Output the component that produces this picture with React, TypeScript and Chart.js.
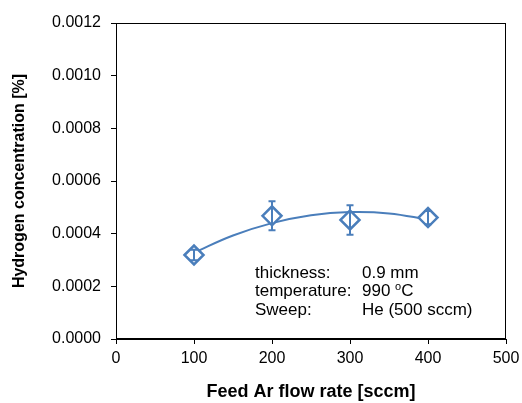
import React, { useEffect, useRef } from "react";
import { Chart, registerables } from "chart.js";

Chart.register(...registerables);

// Measured points
const flowRates = [100, 200, 300, 400];
const h2Conc = [0.000319, 0.000468, 0.000452, 0.000461];
const h2Err = [0.00002, 0.000055, 0.000056, 0.000025];

// Trend curve
const trendX = [100, 150, 200, 250, 300, 350, 400];
const trendY = [0.000328, 0.000393, 0.00044, 0.00047, 0.000482, 0.000477, 0.000454];

const xTicks = [0, 100, 200, 300, 400, 500];
const yTicks = [0, 0.0002, 0.0004, 0.0006, 0.0008, 0.001, 0.0012];

const noteLabels = ["thickness:", "temperature:", "Sweep:"];
const noteValues = ["0.9 mm", "990 |o|C", "He (500 sccm)"];

const BLUE = "#4A7EBB";
const FONT = "'Liberation Sans', Arial, sans-serif";

export default function App() {
  const ref = useRef<HTMLCanvasElement | null>(null);

  useEffect(() => {
    const canvas = ref.current;
    if (!canvas) return;

    const extras = {
      id: "extras",
      afterDatasetsDraw(chart: any) {
        const { ctx, chartArea, scales } = chart;
        const xs = scales.x;
        const ys = scales.y;
        ctx.save();
        // error bars
        ctx.strokeStyle = BLUE;
        ctx.lineWidth = 2;
        for (let i = 0; i < flowRates.length; i++) {
          const px = xs.getPixelForValue(flowRates[i]);
          const top = ys.getPixelForValue(h2Conc[i] + h2Err[i]);
          const bot = ys.getPixelForValue(h2Conc[i] - h2Err[i]);
          ctx.beginPath();
          ctx.moveTo(px, top);
          ctx.lineTo(px, bot);
          ctx.moveTo(px - 3.5, top);
          ctx.lineTo(px + 3.5, top);
          ctx.moveTo(px - 3.5, bot);
          ctx.lineTo(px + 3.5, bot);
          ctx.stroke();
        }
        // frame
        ctx.strokeStyle = "#000";
        ctx.lineWidth = 1;
        ctx.strokeRect(
          Math.round(chartArea.left) + 0.5,
          Math.round(chartArea.top) + 0.5,
          Math.round(chartArea.right - chartArea.left) - 1,
          Math.round(chartArea.bottom - chartArea.top) - 1
        );
        // annotation
        ctx.fillStyle = "#000";
        ctx.textBaseline = "alphabetic";
        ctx.textAlign = "left";
        const lx = chartArea.left + 139;
        const vx = chartArea.left + 246;
        const by = chartArea.top + 255;
        const lh = 18.4;
        for (let i = 0; i < noteLabels.length; i++) {
          const y = by + i * lh;
          ctx.font = `17px ${FONT}`;
          ctx.fillText(noteLabels[i], lx, y);
          const parts = noteValues[i].split("|");
          let x = vx;
          parts.forEach((p, k) => {
            if (k === 1) {
              ctx.font = `11px ${FONT}`;
              ctx.fillText(p, x, y - 6);
              x += ctx.measureText(p).width;
            } else {
              ctx.font = `17px ${FONT}`;
              ctx.fillText(p, x, y);
              x += ctx.measureText(p).width;
            }
          });
        }
        ctx.restore();
      },
    };

    const chart = new Chart(canvas, {
      type: "scatter",
      data: {
        datasets: [
          {
            label: "data",
            data: flowRates.map((x, i) => ({ x, y: h2Conc[i] })),
            showLine: false,
            pointStyle: "rectRot",
            pointRadius: 9.5,
            pointBorderWidth: 2.5,
            pointBackgroundColor: "#ffffff",
            pointBorderColor: BLUE,
          },
          {
            label: "trend",
            data: trendX.map((x, i) => ({ x, y: trendY[i] })),
            showLine: true,
            tension: 0.4,
            borderColor: BLUE,
            borderWidth: 2,
            pointRadius: 0,
            fill: false,
          },
        ],
      },
      options: {
        responsive: false,
        animation: false,
        events: [],
        layout: { padding: { top: 23, right: 16, left: 0, bottom: 0 } },
        plugins: {
          legend: { display: false },
          tooltip: { enabled: false },
        },
        scales: {
          x: {
            type: "linear",
            min: 0,
            max: 500,
            afterBuildTicks: (s: any) => {
              s.ticks = xTicks.map((v) => ({ value: v }));
            },
            afterFit: (s: any) => {
              s.height = 64;
              s.paddingLeft = 0;
              s.paddingRight = 0;
            },
            ticks: {
              color: "#000",
              font: { family: FONT, size: 16 },
              padding: 5,
              maxRotation: 0,
              callback: (v: any) => String(v),
            },
            grid: { drawOnChartArea: false, drawTicks: true, tickLength: 5, color: "#000" },
            border: { display: true, color: "#000" },
            title: {
              display: true,
              text: "Feed Ar flow rate [sccm]",
              color: "#000",
              font: { family: FONT, size: 18, weight: "bold" },
              padding: { top: 0, bottom: 0 },
            },
          },
          y: {
            type: "linear",
            min: 0,
            max: 0.0012,
            afterBuildTicks: (s: any) => {
              s.ticks = yTicks.map((v) => ({ value: v }));
            },
            afterFit: (s: any) => {
              s.width = 116;
              s.paddingTop = 0;
              s.paddingBottom = 0;
            },
            ticks: {
              color: "#000",
              font: { family: FONT, size: 16 },
              padding: 10,
              callback: (v: any) => Number(v).toFixed(4),
            },
            grid: { drawOnChartArea: false, drawTicks: true, tickLength: 5, color: "#000" },
            border: { display: true, color: "#000" },
            title: {
              display: true,
              text: "Hydrogen concentration [%]",
              color: "#000",
              font: { family: FONT, size: 16, weight: "bold" },
              padding: { top: 10, bottom: 0 },
            },
          },
        },
      },
      plugins: [extras],
    } as any);

    return () => chart.destroy();
  }, []);

  return (
    <div style={{ position: "absolute", left: 0, top: 0, width: 522, height: 403, background: "#fff" }}>
      <canvas ref={ref} width={522} height={403} style={{ display: "block" }} />
    </div>
  );
}
